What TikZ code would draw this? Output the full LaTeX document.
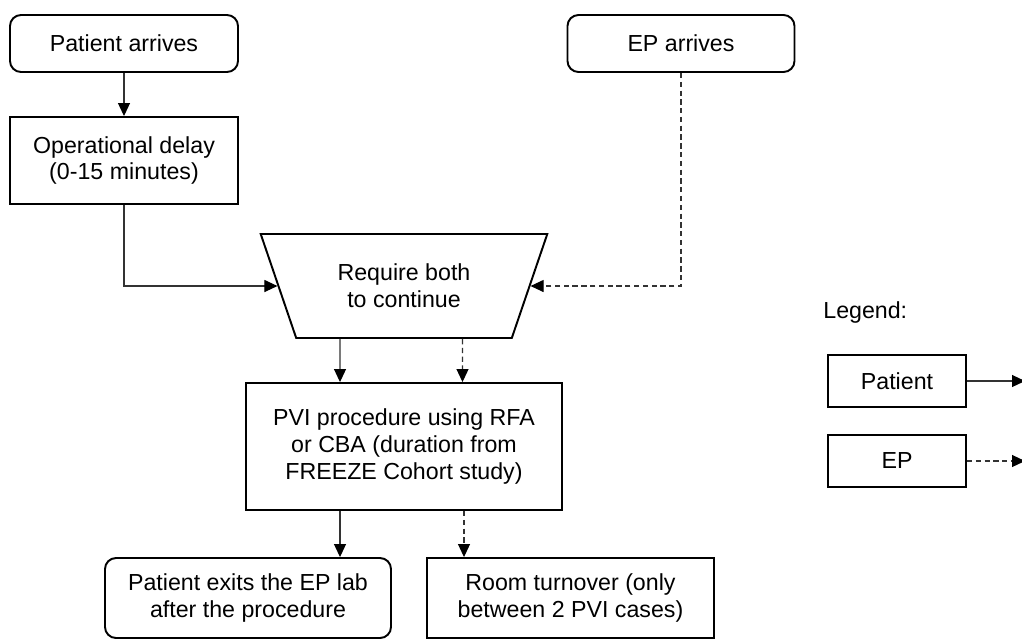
\documentclass[tikz,border=0pt]{standalone}
\usepackage{fontspec}
\setmainfont{Liberation Sans}
\usetikzlibrary{arrows.meta, shapes.geometric}

\begin{document}
\begin{tikzpicture}[
  font=\fontsize{13.2}{15.2}\selectfont,
  inner sep=4pt,
  event/.style={draw, line width=1.1pt, rounded corners=0.22cm, align=center,
    minimum width=4.56cm, minimum height=1.14cm},
  stage/.style={draw, line width=1.1pt, align=center,
    minimum width=4.56cm, minimum height=1.74cm},
  gatebox/.style={draw, line width=1.1pt, trapezium, shape border rotate=180,
    trapezium left angle=67.3, trapezium right angle=67.3, trapezium stretches=true,
    minimum width=5.74cm, minimum height=2.08cm, align=center},
  keybox/.style={draw, line width=1.1pt, align=center,
    minimum width=2.76cm, minimum height=1.04cm},
  arr/.style={-{Triangle[length=2.6mm, width=2.4mm, color=black]}, line width=0.6pt, black!80},
  fb/.style={-{Triangle[length=2.6mm, width=2.4mm, color=black]}, line width=0.6pt, black!80,
    dash pattern=on 3pt off 2pt},
]
\useasboundingbox (0,0) rectangle (20.44,-12.86);

% --- Top: arrivals ---
\node[event] (pat) at (2.48,-0.87) {Patient arrives};
\node[stage] (delay) at (2.48,-3.21) {Operational delay\\(0-15 minutes)};
\node[event, minimum width=4.54cm] (ep) at (13.62,-0.87) {EP arrives};

% --- Synchronisation ---
\node[gatebox] (gate) at (8.08,-5.72) {Require both\\to continue};

% --- Procedure ---
\node[stage, minimum width=6.32cm, minimum height=2.54cm] (pvi) at (8.08,-8.93)
  {PVI procedure using RFA\\or CBA (duration from\\FREEZE Cohort study)};

% --- Exits ---
\node[event, minimum width=5.72cm, minimum height=1.6cm] (exit) at (4.96,-11.96)
  {Patient exits the EP lab\\after the procedure};
\node[stage, minimum width=5.74cm, minimum height=1.6cm] (turn) at (11.41,-11.96)
  {Room turnover (only\\between 2 PVI cases)};

% --- Legend ---
\node[anchor=west, inner sep=0pt] (legend) at (16.46,-6.24) {Legend:};
\node[keybox] (lpat) at (17.94,-7.62) {Patient};
\node[keybox] (lep) at (17.94,-9.22) {EP};
\coordinate (lpatend) at (20.5,-7.62);
\coordinate (lepend) at (20.5,-9.22);

% --- Patient arrows ---
\draw[arr] (pat) -- (delay);
\draw[arr] (delay.south) |- (gate.west);
\draw[arr] ([xshift=-1.28cm]gate.south) -- ([xshift=-1.28cm]pvi.north);
\draw[arr] ([xshift=-1.28cm]pvi.south) -- ([xshift=-1.28cm]pvi.south |- exit.north);
\draw[arr] (lpat.east) -- (lpatend);

% --- EP arrows ---
\draw[fb] (ep.south) |- (gate.east);
\draw[fb] ([xshift=1.17cm]gate.south) -- ([xshift=1.17cm]pvi.north);
\draw[fb] ([xshift=1.2cm]pvi.south) -- ([xshift=1.2cm]pvi.south |- turn.north);
\draw[fb] (lep.east) -- (lepend);

\end{tikzpicture}
\end{document}
